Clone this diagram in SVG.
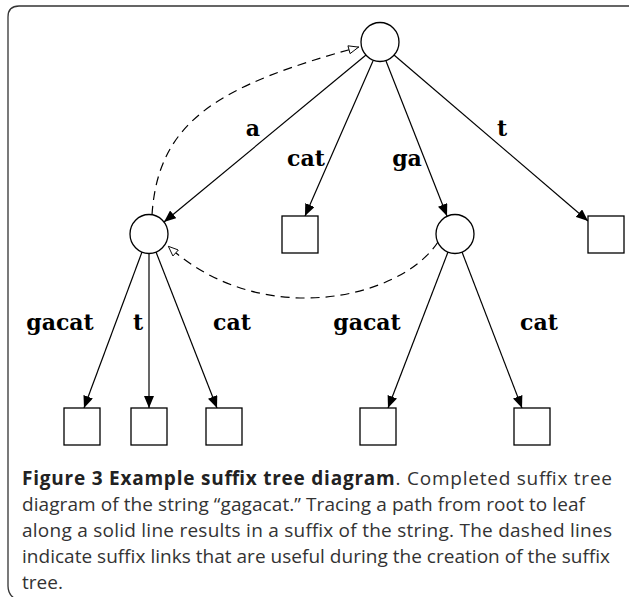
<svg xmlns="http://www.w3.org/2000/svg" width="629" height="597" viewBox="0 0 629 597">
<style>
.n{fill:#fff;stroke:#000;stroke-width:1.3}
.e{fill:none;stroke:#000;stroke-width:1.2}
.d{fill:none;stroke:#000;stroke-width:1.2;stroke-dasharray:9 6}
.l{font-family:"DejaVu Serif","Liberation Serif",serif;font-weight:bold;font-size:22px;fill:#000;text-anchor:middle}
.c{font-family:"Open Sans","Liberation Sans",sans-serif;font-size:19px;fill:#333}
</style>
<defs>
<marker id="ah" viewBox="0 0 12 10" refX="12" refY="5" markerWidth="12" markerHeight="10" markerUnits="userSpaceOnUse" orient="auto">
<path d="M0,0 L12,5 L0,10 Z" fill="#000"/>
</marker>
<marker id="oh" viewBox="0 0 12 10" refX="12" refY="5" markerWidth="12" markerHeight="9" markerUnits="userSpaceOnUse" orient="auto">
<path d="M0.5,0.5 L11.5,5 L0.5,9.5 Z" fill="#fff" stroke="#000" stroke-width="1"/>
</marker>
</defs>
<path d="M629,6 H19 Q8,6 8,17 V586 Q8,594 14,598" fill="none" stroke="#333" stroke-width="1.3"/>
<g id="connectors">
<line class="e" x1="366" y1="55" x2="164" y2="222" marker-end="url(#ah)"/>
<line class="e" x1="373" y1="61" x2="305" y2="216" marker-end="url(#ah)"/>
<line class="e" x1="386" y1="61" x2="447" y2="216" marker-end="url(#ah)"/>
<line class="e" x1="394" y1="55" x2="588" y2="221" marker-end="url(#ah)"/>
<line class="e" x1="142" y1="252" x2="84" y2="408" marker-end="url(#ah)"/>
<line class="e" x1="149" y1="253" x2="149" y2="408" marker-end="url(#ah)"/>
<line class="e" x1="156" y1="252" x2="217" y2="408" marker-end="url(#ah)"/>
<line class="e" x1="448" y1="252" x2="388" y2="408" marker-end="url(#ah)"/>
<line class="e" x1="462" y1="252" x2="522" y2="408" marker-end="url(#ah)"/>
<path class="d" d="M152,215 C158,120 220,85 359,47" marker-end="url(#oh)"/>
<path class="d" d="M438,242 C400,300 260,330 168,246" marker-end="url(#oh)"/>
</g>
<g id="labels">
<text class="l" x="253" y="136">a</text>
<text class="l" x="306" y="166">cat</text>
<text class="l" x="407" y="166">ga</text>
<text class="l" x="502" y="136">t</text>
<text class="l" x="60" y="330">gacat</text>
<text class="l" x="138" y="330">t</text>
<text class="l" x="232" y="330">cat</text>
<text class="l" x="367" y="330">gacat</text>
<text class="l" x="539" y="330">cat</text>
</g>
<g id="root"><ellipse class="n" cx="380" cy="42" rx="19" ry="19.5"/></g>
<g id="nodeA"><ellipse class="n" cx="149" cy="234" rx="19" ry="19.5"/></g>
<g id="leafCat"><rect class="n" x="282" y="216" width="36" height="37"/></g>
<g id="nodeGA"><ellipse class="n" cx="455" cy="234" rx="19" ry="19.5"/></g>
<g id="leafT"><rect class="n" x="588" y="216" width="36" height="37"/></g>
<g id="leaf1"><rect class="n" x="64" y="408" width="36" height="37"/></g>
<g id="leaf2"><rect class="n" x="131" y="408" width="36" height="37"/></g>
<g id="leaf3"><rect class="n" x="206" y="408" width="36" height="37"/></g>
<g id="leaf4"><rect class="n" x="360" y="408" width="36" height="37"/></g>
<g id="leaf5"><rect class="n" x="514" y="408" width="36" height="37"/></g>
<g id="caption">
<text class="c" x="22" y="485" textLength="590" lengthAdjust="spacing"><tspan font-weight="bold" fill="#222">Figure 3 Example suffix tree diagram</tspan>. Completed suffix tree</text>
<text class="c" x="22" y="511" textLength="563" lengthAdjust="spacing">diagram of the string “gagacat.” Tracing a path from root to leaf</text>
<text class="c" x="22" y="537" textLength="590" lengthAdjust="spacing">along a solid line results in a suffix of the string. The dashed lines</text>
<text class="c" x="22" y="563" textLength="588" lengthAdjust="spacing">indicate suffix links that are useful during the creation of the suffix</text>
<text class="c" x="22" y="589">tree.</text>
</g>
</svg>
